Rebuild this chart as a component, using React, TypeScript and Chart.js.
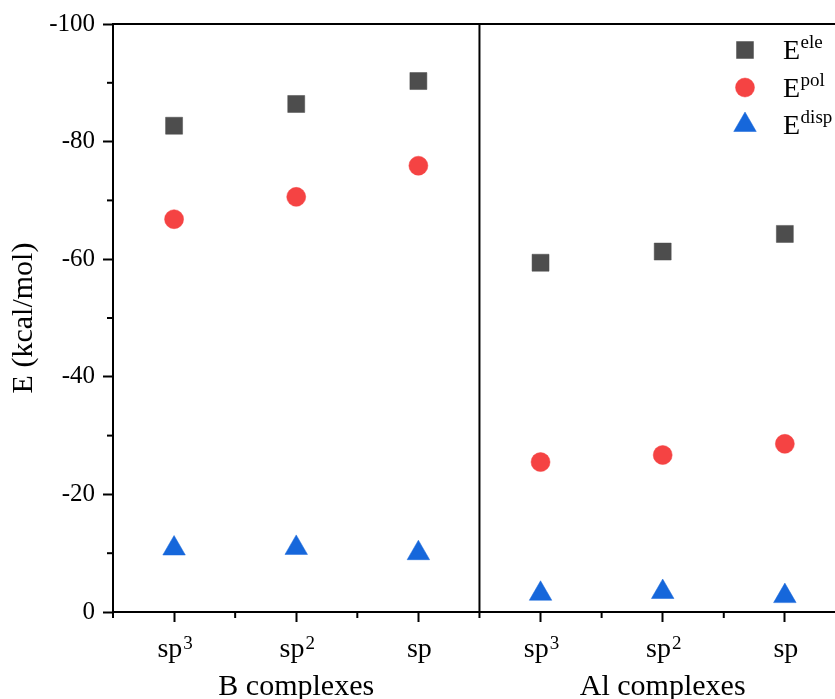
import React, { useEffect, useRef } from 'react';
import { Chart, registerables } from 'chart.js';
import { drawPoint } from 'chart.js/helpers';

Chart.register(...registerables);

const categoryBase = ['sp', 'sp', 'sp', 'sp', 'sp', 'sp'];
const categorySup = ['3', '2', '', '3', '2', ''];
const groupLabels = ['B complexes', 'Al complexes'];
const groupCenters = [1, 4];
const eleValues = [-82.7, -86.4, -90.3, -59.4, -61.3, -64.3];
const polValues = [-66.8, -70.6, -75.9, -25.5, -26.7, -28.6];
const dispValues = [-10.8, -10.9, -10.0, -3.1, -3.4, -2.7];
const yMajorTicks = [0, -20, -40, -60, -80, -100];
const yMinorTicks = [-10, -30, -50, -70, -90];
const xMinorTicks = [-0.5, 0.5, 1.5, 2.5, 3.5, 4.5];
const seriesNames = ['ele', 'pol', 'disp'];
const seriesColors = ['#4d4d4d', '#f54343', '#1667db'];
const seriesShapes = ['rect', 'circle', 'triangle'];
const seriesRadius = [12, 9.5, 13];
const groupDivider = 2.5;

const FONT = '"Liberation Serif", "Times New Roman", serif';

const decorPlugin = {
  id: 'decor',
  afterDraw(chart: any) {
    const { ctx, chartArea, scales } = chart;
    const x = scales.x;
    const y = scales.y;
    ctx.save();
    ctx.strokeStyle = '#000';
    ctx.lineWidth = 2;
    // top frame line
    ctx.beginPath();
    ctx.moveTo(chartArea.left - 1, chartArea.top);
    ctx.lineTo(chart.width, chartArea.top);
    ctx.stroke();
    // bottom axis continues to the edge of the picture
    ctx.beginPath();
    ctx.moveTo(chartArea.right - 1, chartArea.bottom);
    ctx.lineTo(chart.width, chartArea.bottom);
    ctx.stroke();
    // group divider
    const dx = x.getPixelForValue(groupDivider);
    ctx.beginPath();
    ctx.moveTo(dx, chartArea.top);
    ctx.lineTo(dx, chartArea.bottom);
    ctx.stroke();
    // minor ticks
    xMinorTicks.forEach((v) => {
      const px = x.getPixelForValue(v);
      ctx.beginPath();
      ctx.moveTo(px, chartArea.bottom);
      ctx.lineTo(px, chartArea.bottom + 6);
      ctx.stroke();
    });
    yMinorTicks.forEach((v) => {
      const py = y.getPixelForValue(v);
      ctx.beginPath();
      ctx.moveTo(chartArea.left - 6, py);
      ctx.lineTo(chartArea.left, py);
      ctx.stroke();
    });
    ctx.fillStyle = '#000';
    ctx.textBaseline = 'alphabetic';
    // x tick labels with superscripts
    categoryBase.forEach((b, i) => {
      const px = x.getPixelForValue(i);
      ctx.font = '28px ' + FONT;
      const wb = ctx.measureText(b).width;
      ctx.font = '19px ' + FONT;
      const ws = categorySup[i] ? ctx.measureText(categorySup[i]).width + 1 : 0;
      const start = px - (wb + ws) / 2 + 1;
      ctx.textAlign = 'left';
      ctx.font = '28px ' + FONT;
      ctx.fillText(b, start, 657);
      if (categorySup[i]) {
        ctx.font = '19px ' + FONT;
        ctx.fillText(categorySup[i], start + wb + 1, 649);
      }
    });
    // group labels
    ctx.font = '30px ' + FONT;
    ctx.textAlign = 'center';
    groupLabels.forEach((g, i) => {
      ctx.fillText(g, x.getPixelForValue(groupCenters[i]), 695);
    });
    // legend
    const lx = 745;
    const ly0 = 50;
    const step = 37.5;
    seriesNames.forEach((name, i) => {
      const cy = ly0 + i * step;
      ctx.fillStyle = seriesColors[i];
      ctx.strokeStyle = seriesColors[i];
      ctx.lineWidth = 0.5;
      drawPoint(ctx, { pointStyle: seriesShapes[i], radius: seriesRadius[i], rotation: 0, borderWidth: 0.5 }, lx, cy);
      ctx.fillStyle = '#000';
      ctx.textAlign = 'left';
      ctx.font = '28px ' + FONT;
      const base = cy + 9;
      ctx.fillText('E', 783, base);
      const w = ctx.measureText('E').width;
      ctx.font = '19px ' + FONT;
      ctx.fillText(name, 783 + w + 0.5, base - 11);
    });
    ctx.restore();
  },
};

export default function App() {
  const ref = useRef<HTMLCanvasElement>(null);
  useEffect(() => {
    if (!ref.current) return;
    Chart.defaults.font.family = FONT;
    const mk = (vals: number[]) => vals.map((v, i) => ({ x: i, y: v }));
    const allVals = [eleValues, polValues, dispValues];
    const chart = new Chart(ref.current, {
      type: 'scatter',
      data: {
        datasets: seriesNames.map((n, i) => ({
          label: 'E' + n,
          data: mk(allVals[i]),
          pointStyle: seriesShapes[i] as any,
          pointRadius: seriesRadius[i],
          pointHoverRadius: seriesRadius[i],
          backgroundColor: seriesColors[i],
          borderColor: seriesColors[i],
          borderWidth: 0.5,
          showLine: false,
        })),
      },
      options: {
        animation: false,
        responsive: false,
        layout: { padding: { top: 24, right: 0, left: 0, bottom: 0 } },
        plugins: { legend: { display: false }, tooltip: { enabled: false } },
        scales: {
          x: {
            type: 'linear',
            min: -0.5,
            max: 5.3,
            afterFit: (s: any) => { s.height = 87; },
            afterBuildTicks: (s: any) => { s.ticks = categoryBase.map((_, i) => ({ value: i })); },
            ticks: {
              autoSkip: false,
              maxRotation: 0,
              color: 'rgba(0,0,0,0)',
              font: { size: 28, family: FONT },
              padding: 8,
              callback: (v: any) => categoryBase[Math.round(Number(v))] + categorySup[Math.round(Number(v))],
            },
            grid: { drawOnChartArea: false, drawTicks: true, tickLength: 10, tickWidth: 2, tickColor: '#000' },
            border: { display: true, color: '#000', width: 2 },
          },
          y: {
            type: 'linear',
            reverse: true,
            min: -100,
            max: 0,
            afterFit: (s: any) => { s.width = 113; },
            afterBuildTicks: (s: any) => { s.ticks = yMajorTicks.map((v) => ({ value: v })); },
            ticks: {
              color: '#000',
              font: { size: 25, family: FONT },
              padding: 8,
              callback: (v: any) => String(v),
            },
            grid: { drawOnChartArea: false, drawTicks: true, tickLength: 10, tickWidth: 2, tickColor: '#000' },
            border: { display: true, color: '#000', width: 2 },
            title: { display: true, text: 'E (kcal/mol)', color: '#000', font: { size: 30, family: FONT }, padding: { top: 6, bottom: 0 } },
          },
        },
      },
      plugins: [decorPlugin],
    });
    return () => chart.destroy();
  }, []);
  return (
    <div style={{ position: 'absolute', left: 0, top: 0, width: 835, height: 699, background: '#fff' }}>
      <canvas ref={ref} width={835} height={699} />
    </div>
  );
}
